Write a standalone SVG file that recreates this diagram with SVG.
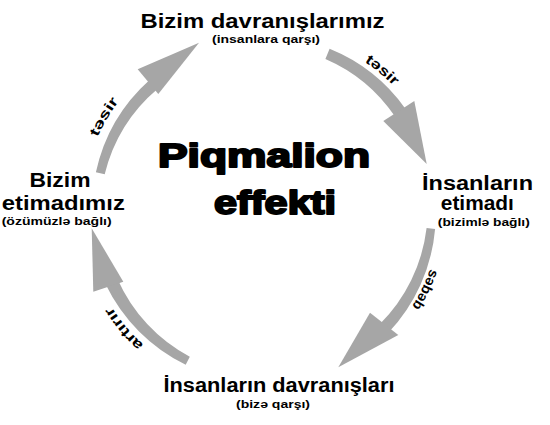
<svg xmlns="http://www.w3.org/2000/svg" xmlns:xlink="http://www.w3.org/1999/xlink" width="550" height="425" viewBox="0 0 550 425">
  <style>
    .main { font-family: "Liberation Sans", Arial, sans-serif; font-weight: bold; font-size: 20px; fill: #000; text-anchor: middle; }
    .sub { font-family: "Liberation Sans", Arial, sans-serif; font-weight: bold; font-size: 11px; fill: #000; text-anchor: middle; }
    .title { font-family: "Liberation Sans", Arial, sans-serif; font-weight: 900; font-size: 33px; fill: #000; stroke: #000; stroke-width: 2; stroke-linejoin: round; text-anchor: middle; }
    .arrow { fill: #a6a6a6; stroke: none; }
    .lbl { font-family: "Liberation Sans", Arial, sans-serif; font-weight: bold; font-size: 14px; fill: #000; text-anchor: middle; }
  </style>
  <defs>
    <path id="p-tl" d="M82.84,193.56 A182,182 0 0 1 160.91,61.01"/>
    <path id="p-tr" d="M310.59,37.13 A180,180 0 0 1 427.14,134.93"/>
    <path id="p-r" d="M439.97,214.07 A176,176 0 0 1 374.76,347.78"/>
    <path id="p-bl" d="M187.93,374.14 A180,180 0 0 1 90.13,257.59"/>
  </defs>
  <rect width="550" height="425" fill="#fff"/>

  <g id="connectors">
    <g id="arrow-top-left">
      <path class="arrow" d="M95.9,172.2 A173,173 0 0 1 149.8,79.7 L157.7,88.7 A163,163 0 0 0 104.7,174.2 Z"/>
      <polygon class="arrow" points="137.7,69.3 199,42.7 158.3,94"/>
      <text class="lbl"><textPath xlink:href="#p-tl" href="#p-tl" startOffset="50%" textLength="42" lengthAdjust="spacingAndGlyphs">təsir</textPath></text>
    </g>
    <g id="arrow-top-right">
      <path class="arrow" d="M329.6,48.7 A172,172 0 0 1 405.2,108.4 L394.7,116.1 A161,161 0 0 0 325.4,58.9 Z"/>
      <polygon class="arrow" points="414.3,101 426.7,164 383.3,121"/>
      <text class="lbl"><textPath xlink:href="#p-tr" href="#p-tr" startOffset="50%" textLength="38" lengthAdjust="spacingAndGlyphs">təsir</textPath></text>
    </g>
    <g id="arrow-right-bottom">
      <path class="arrow" d="M435.1,229.0 A173,173 0 0 1 388.1,333.0 L379.5,324.5 A163,163 0 0 0 426.6,228.1 Z"/>
      <polygon class="arrow" points="398.3,335 338.3,367.3 370,312.7"/>
      <text class="lbl"><textPath xlink:href="#p-r" href="#p-r" startOffset="50%" textLength="42" lengthAdjust="spacingAndGlyphs">səbəb</textPath></text>
    </g>
    <g id="arrow-bottom-left">
      <path class="arrow" d="M185.7,364.7 A173,173 0 0 1 105.85,284.75 L117.63,279.25 A162,162 0 0 0 189.8,356.7 Z"/>
      <polygon class="arrow" points="93.3,291.7 91.7,228.3 123.3,281.7"/>
      <text class="lbl"><textPath xlink:href="#p-bl" href="#p-bl" startOffset="50%" textLength="50" lengthAdjust="spacingAndGlyphs">artırır</textPath></text>
    </g>
  </g>

  <g id="node-top">
    <text class="main" x="262.5" y="28" textLength="244" lengthAdjust="spacingAndGlyphs">Bizim davranışlarımız</text>
    <text class="sub" x="266" y="42.5" textLength="108" lengthAdjust="spacingAndGlyphs">(insanlara qarşı)</text>
  </g>
  <g id="node-right">
    <text class="main" x="477.5" y="190" textLength="111" lengthAdjust="spacingAndGlyphs">İnsanların</text>
    <text class="main" x="477.3" y="210" textLength="73" lengthAdjust="spacingAndGlyphs">etimadı</text>
    <text class="sub" x="483.8" y="226" textLength="92" lengthAdjust="spacingAndGlyphs">(bizimlə bağlı)</text>
  </g>
  <g id="node-bottom">
    <text class="main" x="279" y="392" textLength="231" lengthAdjust="spacingAndGlyphs">İnsanların davranışları</text>
    <text class="sub" x="273" y="408" textLength="74" lengthAdjust="spacingAndGlyphs">(bizə qarşı)</text>
  </g>
  <g id="node-left">
    <text class="main" x="60" y="187.3" textLength="61" lengthAdjust="spacingAndGlyphs">Bizim</text>
    <text class="main" x="63.3" y="210" textLength="123" lengthAdjust="spacingAndGlyphs">etimadımız</text>
    <text class="sub" x="56.7" y="225" textLength="110" lengthAdjust="spacingAndGlyphs">(özümüzlə bağlı)</text>
  </g>
  <g id="title">
    <text class="title" x="264" y="167.3" textLength="212" lengthAdjust="spacingAndGlyphs">Piqmalion</text>
    <text class="title" x="275" y="213.5" textLength="122" lengthAdjust="spacingAndGlyphs">effekti</text>
  </g>
</svg>
